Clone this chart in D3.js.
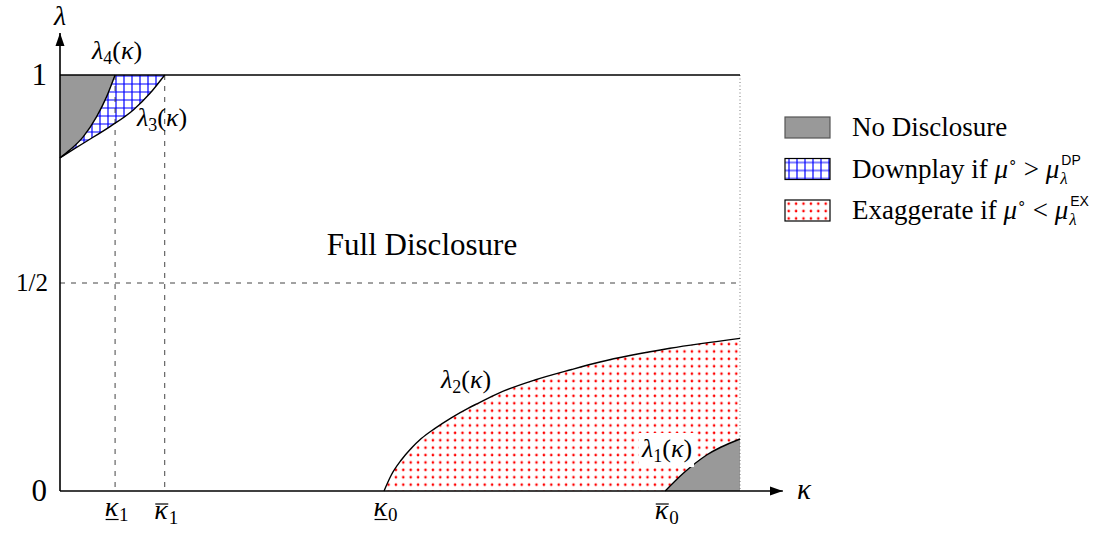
<!DOCTYPE html>
<html>
<head>
<meta charset="utf-8">
<script src="https://cdn.jsdelivr.net/npm/d3@7"></script>
<style>
body { margin: 0; background: #fff; }
</style>
</head>
<body>
<svg width="1117" height="533"></svg>
<script>
// curves: [kappa, lambda], kappa scaled to [0,1]
var lambda4 = [[0, 0.801], [0.0147, 0.820], [0.0343, 0.852], [0.0539, 0.900], [0.0686, 0.948], [0.081, 1]];
var lambda3 = [[0, 0.801], [0.0343, 0.836], [0.0735, 0.876], [0.1078, 0.916], [0.1324, 0.956], [0.154, 1]];
var lambda2 = [[0.4765, 0], [0.4872, 0.0385], [0.5019, 0.0745], [0.5166, 0.1026], [0.5313, 0.126],
	[0.551, 0.150], [0.5754, 0.176], [0.60, 0.1988], [0.6147, 0.2108], [0.6446, 0.2348],
	[0.6985, 0.2668], [0.7525, 0.292], [0.7941, 0.310], [0.897, 0.343], [1, 0.367]];
var lambda1 = [[0.89, 0], [0.9166, 0.0425], [0.951, 0.0865], [1, 0.125]];

// kappa ticks
var kappaTicks = [0.081, 0.154, 0.4765, 0.89];
var kappaSubs = ["1", "1", "0", "0"];
var kappaBars = ["under", "over", "under", "over"];

// lambda ticks
var lambdaTicks = [0, 0.5, 1];
var lambdaLabels = ["0", "1/2", "1"];

// legend
var legendNames = ["No Disclosure", "Downplay if ", "Exaggerate if "];
var legendRel = [null, ">", "<"];
var legendSup = [null, "DP", "EX"];
var legendFill = ["#999", "url(#grid)", "url(#dots)"];
var legendStroke = ["#555", "#000", "#000"];

var serif = "'Liberation Serif', serif";

var svg = d3.select("svg");

var x = d3.scaleLinear().domain([0, 1]).range([60, 740]);
var y = d3.scaleLinear().domain([0, 1]).range([491, 75]);

// patterns
var defs = svg.append("defs");
var grid = defs.append("pattern").attr("id", "grid")
	.attr("patternUnits", "userSpaceOnUse")
	.attr("width", 8).attr("height", 8);
grid.append("rect").attr("width", 8).attr("height", 8).attr("fill", "#fff");
grid.append("path").attr("d", "M4,0V8M0,4H8")
	.attr("stroke", "#0000ff").attr("stroke-width", 1.2);

var dots = defs.append("pattern").attr("id", "dots")
	.attr("patternUnits", "userSpaceOnUse")
	.attr("width", 7.4).attr("height", 7.4);
dots.append("rect").attr("width", 7.4).attr("height", 7.4).attr("fill", "#fff");
dots.append("circle").attr("cx", 3.7).attr("cy", 3.7).attr("r", 1.3).attr("fill", "#ff0000");

defs.append("marker").attr("id", "arrow")
	.attr("markerUnits", "userSpaceOnUse")
	.attr("viewBox", "0 -5 13 10")
	.attr("markerWidth", 13).attr("markerHeight", 10)
	.attr("refX", 13).attr("refY", 0)
	.attr("orient", "auto")
	.append("path").attr("d", "M0,-4.5L13,0L0,4.5Z").attr("fill", "#000");

var line = d3.line()
	.x(function (d) { return x(d[0]); })
	.y(function (d) { return y(d[1]); })
	.curve(d3.curveMonotoneX);

// region under the top line, above a curve
var areaTop = d3.area()
	.x(function (d) { return x(d[0]); })
	.y0(y(1))
	.y1(function (d) { return y(d[1]); })
	.curve(d3.curveMonotoneX);

// region between the axis and a curve
var areaBottom = d3.area()
	.x(function (d) { return x(d[0]); })
	.y0(y(0))
	.y1(function (d) { return y(d[1]); })
	.curve(d3.curveMonotoneX);

// fills: hatch first, gray on top
svg.append("path").attr("d", areaTop(lambda3)).attr("fill", "url(#grid)");
svg.append("path").attr("d", areaTop(lambda4)).attr("fill", "#999");
svg.append("path").attr("d", areaBottom(lambda2)).attr("fill", "url(#dots)");
svg.append("path").attr("d", areaBottom(lambda1)).attr("fill", "#999");

// dashed guides
svg.selectAll(".vguide")
	.data(kappaTicks.slice(0, 2))
	.enter().append("line")
	.attr("x1", function (d) { return x(d); })
	.attr("x2", function (d) { return x(d); })
	.attr("y1", y(1)).attr("y2", y(0))
	.attr("stroke", "#444").attr("stroke-width", 1)
	.attr("stroke-dasharray", "5,6");

svg.append("line")
	.attr("x1", x(0)).attr("x2", x(1))
	.attr("y1", y(0.5)).attr("y2", y(0.5))
	.attr("stroke", "#444").attr("stroke-width", 1)
	.attr("stroke-dasharray", "5,6");

// dotted right border
svg.append("line")
	.attr("x1", x(1)).attr("x2", x(1))
	.attr("y1", y(1)).attr("y2", y(0))
	.attr("stroke", "#777").attr("stroke-width", 1)
	.attr("stroke-dasharray", "1,2.5");

// curves
[lambda4, lambda3, lambda2, lambda1].forEach(function (c) {
	svg.append("path").attr("d", line(c))
		.attr("fill", "none").attr("stroke", "#000").attr("stroke-width", 1.4);
});

// top line lambda = 1
svg.append("line")
	.attr("x1", x(0)).attr("x2", x(1))
	.attr("y1", y(1)).attr("y2", y(1))
	.attr("stroke", "#000").attr("stroke-width", 1.4);

// axes with arrows
svg.append("line")
	.attr("x1", x(0)).attr("x2", x(1.063))
	.attr("y1", y(0)).attr("y2", y(0))
	.attr("stroke", "#000").attr("stroke-width", 1.6)
	.attr("marker-end", "url(#arrow)");
svg.append("line")
	.attr("x1", x(0)).attr("x2", x(0))
	.attr("y1", y(0)).attr("y2", y(1.101))
	.attr("stroke", "#000").attr("stroke-width", 1.6)
	.attr("marker-end", "url(#arrow)");

// axis names
svg.append("text").attr("x", x(0)).attr("y", 25)
	.attr("text-anchor", "middle").attr("font-size", 28).attr("font-style", "italic")
	.attr("font-family", serif)
	.text("λ");
svg.append("text").attr("x", 797).attr("y", 499)
	.attr("font-size", 29).attr("font-style", "italic")
	.attr("font-family", serif)
	.text("κ");

// lambda tick labels
svg.selectAll(".ylab")
	.data(lambdaTicks)
	.enter().append("text")
	.attr("x", function (d, i) { return lambdaLabels[i] == "1/2" ? 48 : 47; })
	.attr("y", function (d) { return y(d); })
	.attr("dy", "0.33em")
	.attr("text-anchor", "end")
	.attr("font-family", serif)
	.attr("font-size", function (d, i) { return lambdaLabels[i] == "1/2" ? 25 : 31; })
	.text(function (d, i) { return lambdaLabels[i]; });

// kappa tick labels with under/over bars
kappaTicks.forEach(function (k, i) {
	var cx = x(k) + 3;
	var base = kappaBars[i] == "under" ? 516 : 519;
	var t = svg.append("text").attr("x", cx).attr("y", base)
		.attr("text-anchor", "end").attr("font-size", 28).attr("font-style", "italic")
		.attr("font-family", serif)
		.text("κ");
	svg.append("text").attr("x", cx + 1).attr("y", base + 5)
		.attr("font-size", 19)
		.attr("font-family", serif)
		.text(kappaSubs[i]);
	var bb = t.node().getBBox();
	var by = kappaBars[i] == "under" ? base + 3.5 : base - 15;
	svg.append("line")
		.attr("x1", bb.x + 1).attr("x2", bb.x + bb.width)
		.attr("y1", by).attr("y2", by)
		.attr("stroke", "#000").attr("stroke-width", 1.2);
});

// curve labels
function curveLabel(cx, cy, sub, boxed) {
	var g = svg.append("g");
	var t = g.append("text").attr("x", cx).attr("y", cy)
		.attr("text-anchor", "middle").attr("font-size", 26)
		.attr("font-family", serif);
	t.append("tspan").attr("font-style", "italic").text("λ");
	t.append("tspan").attr("font-size", 18).attr("dy", 5).text(sub);
	t.append("tspan").attr("dy", -5).text("(");
	t.append("tspan").attr("font-style", "italic").text("κ");
	t.append("tspan").text(")");
	if (boxed) {
		var bb = t.node().getBBox();
		g.insert("rect", "text")
			.attr("x", bb.x - 2).attr("y", bb.y - 1)
			.attr("width", bb.width + 4).attr("height", bb.height + 2)
			.attr("fill", "#fff");
	}
}
curveLabel(117, 59, "4", false);
curveLabel(162, 126, "3", false);
curveLabel(466, 388, "2", false);
curveLabel(667, 457, "1", true);

// full disclosure
svg.append("text").attr("x", 422).attr("y", 255)
	.attr("text-anchor", "middle").attr("font-size", 31)
	.attr("font-family", serif)
	.text("Full Disclosure");

// legend
var legend = svg.append("g").attr("transform", "translate(785,117)");
legendNames.forEach(function (name, i) {
	var row = legend.append("g").attr("transform", "translate(0," + (i * 41.5) + ")");
	row.append("rect")
		.attr("width", 45).attr("height", 21)
		.attr("fill", legendFill[i])
		.attr("stroke", legendStroke[i]).attr("stroke-width", 1.2);
	var t = row.append("text").attr("x", 67).attr("y", 19).attr("font-size", 27)
		.attr("font-family", serif);
	t.append("tspan").text(name);
	if (legendRel[i]) {
		t.append("tspan").attr("font-style", "italic").text("μ");
		t.append("tspan").attr("font-size", 15).attr("dy", -11).text("∘");
		t.append("tspan").attr("dy", 11).text(" " + legendRel[i] + " ");
		t.append("tspan").attr("font-style", "italic").text("μ");
		var end = 67 + t.node().getComputedTextLength() + 1;
		row.append("text").attr("x", end).attr("y", 25)
			.attr("font-size", 17).attr("font-style", "italic")
			.attr("font-family", serif)
			.text("λ");
		row.append("text").attr("x", end + 1).attr("y", 6)
			.attr("font-size", 14).attr("font-family", "'Liberation Sans', sans-serif")
			.text(legendSup[i]);
	}
});
</script>
</body>
</html>
